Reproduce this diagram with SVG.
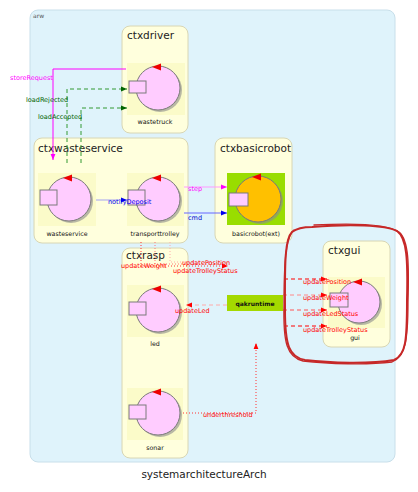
<svg xmlns="http://www.w3.org/2000/svg" width="418" height="492" viewBox="0 0 418 492">
<defs>
<style>
.ctx{fill:#ffffdd;stroke:#d8d6b4;stroke-width:1}
.ctt{font-family:"DejaVu Sans",sans-serif;font-size:10.5px;fill:#222}
.bg{fill:#fbfbc9}
.sh{fill:#8c8c8c;opacity:0.6}
.ci{fill:#ffccff;stroke:#7a7a7a;stroke-width:1}
.rc{fill:#ffccff;stroke:#7a7a7a;stroke-width:1}
.tri{fill:#ee0000}
.nl{font-family:"DejaVu Sans",sans-serif;font-size:6.3px;fill:#111;text-anchor:middle}
.el{font-family:"DejaVu Sans",sans-serif;font-size:6.5px}
.red{fill:#ff0000}
</style>
<marker id="aG" viewBox="0 0 10 10" refX="10" refY="5" markerWidth="6" markerHeight="6" orient="auto" markerUnits="userSpaceOnUse"><path d="M0,1 L10,5 L0,9 Z" fill="#006400"/></marker>
<marker id="aM" viewBox="0 0 10 10" refX="10" refY="5" markerWidth="6" markerHeight="6" orient="auto" markerUnits="userSpaceOnUse"><path d="M0,1 L10,5 L0,9 Z" fill="#ff00ff"/></marker>
<marker id="aB" viewBox="0 0 10 10" refX="10" refY="5" markerWidth="6" markerHeight="6" orient="auto" markerUnits="userSpaceOnUse"><path d="M0,1 L10,5 L0,9 Z" fill="#0000ee"/></marker>
<marker id="aR" viewBox="0 0 10 10" refX="10" refY="5" markerWidth="6" markerHeight="6" orient="auto" markerUnits="userSpaceOnUse"><path d="M0,1 L10,5 L0,9 Z" fill="#ff0000"/></marker>
</defs>
<rect width="418" height="492" fill="#ffffff"/>
<g id="arw">
<rect x="30" y="10" width="365" height="452" rx="8" fill="#dff3fb" stroke="#c8dfea"/>
<text x="33" y="18" font-family="DejaVu Sans,sans-serif" font-size="6" fill="#555">arw</text>
</g>
<g id="ctxdriver">
<rect class="ctx" x="122" y="26" width="66" height="107" rx="8"/>
<text class="ctt" x="127" y="39">ctxdriver</text>
</g>
<g id="ctxwasteservice">
<rect class="ctx" x="34" y="138" width="154" height="105" rx="8"/>
<text class="ctt" x="38" y="152">ctxwasteservice</text>
</g>
<g id="ctxbasicrobot">
<rect class="ctx" x="215" y="138" width="77" height="105" rx="8"/>
<text class="ctt" x="220" y="152">ctxbasicrobot</text>
</g>
<g id="ctxrasp">
<rect class="ctx" x="122" y="248" width="66" height="210" rx="8"/>
<text class="ctt" x="126" y="259">ctxrasp</text>
</g>
<g id="ctxgui">
<rect class="ctx" x="323" y="241" width="67" height="106" rx="8"/>
<text class="ctt" x="328" y="254">ctxgui</text>
</g>
<g id="wastetruck">
<rect class="bg" x="127" y="63" width="58" height="52"/>
<circle class="sh" cx="160" cy="90" r="22"/>
<circle class="ci" cx="158" cy="88" r="22"/>
<path class="tri" d="M152,67 L161,63.5 L161,70.5 Z"/>
<rect class="rc" x="129" y="81" width="17" height="12"/>
<text class="nl" x="155" y="124">wastetruck</text>
</g>
<g id="wasteservice">
<rect class="bg" x="38" y="173" width="58" height="53"/>
<circle class="sh" cx="71" cy="201" r="22"/>
<circle class="ci" cx="69" cy="199" r="22"/>
<path class="tri" d="M63,178 L72,174.5 L72,181.5 Z"/>
<rect class="rc" x="40" y="190" width="17" height="15"/>
<text class="nl" x="67" y="236">wasteservice</text>
</g>
<g id="transporttrolley">
<rect class="bg" x="127" y="173" width="57" height="53"/>
<circle class="sh" cx="160" cy="201" r="22"/>
<circle class="ci" cx="158" cy="199" r="22"/>
<path class="tri" d="M152,178 L161,174.5 L161,181.5 Z"/>
<rect class="rc" x="128" y="190" width="17" height="15"/>
<text class="nl" x="155" y="236">transporttrolley</text>
</g>
<g id="basicrobot">
<rect x="227" y="173" width="58" height="52" fill="#99dd00"/>
<circle class="sh" cx="260" cy="201" r="23"/>
<circle cx="258" cy="199" r="23" fill="#ffc000" stroke="#7a7a7a"/>
<path class="tri" d="M252,177 L261,173.5 L261,180.5 Z"/>
<rect class="rc" x="229" y="193" width="19" height="13"/>
<text class="nl" x="256" y="236">basicrobot(ext)</text>
</g>
<g id="led">
<rect class="bg" x="127" y="285" width="57" height="52"/>
<circle class="sh" cx="160" cy="312" r="22"/>
<circle class="ci" cx="158" cy="310" r="22"/>
<path class="tri" d="M152,289 L161,285.5 L161,292.5 Z"/>
<rect class="rc" x="129" y="302" width="17" height="13"/>
<text class="nl" x="155" y="346">led</text>
</g>
<g id="sonar">
<rect class="bg" x="127" y="388" width="56" height="52"/>
<circle class="sh" cx="160" cy="415" r="22"/>
<circle class="ci" cx="158" cy="413" r="22"/>
<path class="tri" d="M152,392 L161,388.5 L161,395.5 Z"/>
<rect class="rc" x="129" y="405" width="17" height="14"/>
<text class="nl" x="155" y="450">sonar</text>
</g>
<g id="gui">
<rect class="bg" x="328" y="277" width="57" height="51"/>
<circle class="sh" cx="361" cy="304" r="21"/>
<circle class="ci" cx="359" cy="302" r="21"/>
<path class="tri" d="M353,282 L362,278.5 L362,285.5 Z"/>
<rect class="rc" x="330" y="293" width="18" height="14"/>
<text class="nl" x="355" y="340">gui</text>
</g>
<g id="qakruntime">
<rect x="227" y="295" width="56" height="16" fill="#a4d900"/>
<text x="255" y="305.5" font-family="DejaVu Sans,sans-serif" font-size="6" font-weight="bold" fill="#111" text-anchor="middle">qakruntime</text>
</g>
<g id="connectors" fill="none">
<path d="M126,69 H53 V160" stroke="#ff00ff" stroke-width="1" marker-end="url(#aM)"/>
<path d="M67,163 V89 H127" stroke="#339933" stroke-dasharray="4,3" marker-end="url(#aG)"/>
<path d="M81,163 V108 H127" stroke="#339933" stroke-dasharray="4,3" marker-end="url(#aG)"/>
<path d="M96,200 H127" stroke="#c2c2ea" stroke-width="1.5" marker-end="url(#aB)"/>
<path d="M184,187 H227" stroke="#ff99ff" stroke-width="1.2" marker-end="url(#aM)"/>
<path d="M184,213 H227" stroke="#6666ff" marker-end="url(#aB)"/>
<path d="M141,242 V266 H228" stroke="#ff3333" stroke-dasharray="1,2" marker-end="url(#aR)"/>
<path d="M155,242 V264 H228" stroke="#ff7777" stroke-dasharray="1,2"/>
<path d="M170,242 V262 H228" stroke="#ffaaaa" stroke-dasharray="1,2"/>
<path d="M227,305 H186" stroke="#ffaaaa" stroke-dasharray="4,3" marker-end="url(#aR)"/>
<path d="M284,279 H327" stroke="#ff0000" stroke-dasharray="4,3" marker-end="url(#aR)"/>
<path d="M283,295 H327" stroke="#ff8888" stroke-dasharray="4,3" marker-end="url(#aR)"/>
<path d="M283,310 H327" stroke="#ff5555" stroke-dasharray="4,3" marker-end="url(#aR)"/>
<path d="M284,326 H327" stroke="#ff0000" stroke-dasharray="4,3" marker-end="url(#aR)"/>
<path d="M183,413 H256 V343" stroke="#ff3333" stroke-dasharray="1,2" marker-end="url(#aR)"/>
<text class="el" x="10" y="80" fill="#ff00ff">storeRequest</text>
<text class="el" x="26" y="102" fill="#006400">loadRejected</text>
<text class="el" x="38" y="119" fill="#006400">loadAccepted</text>
<text class="el" x="108" y="204" fill="#0000ee">notifyDeposit</text>
<text class="el" x="188" y="191" fill="#ff00ff">step</text>
<text class="el" x="188" y="220" fill="#0000cc">cmd</text>
<text class="el red" x="121" y="268">updateWeight</text>
<text class="el red" x="182" y="265">updatePosition</text>
<text class="el red" x="173" y="273">updateTrolleyStatus</text>
<text class="el red" x="175" y="313">updateLed</text>
<text class="el red" x="303" y="284">updatePosition</text>
<text class="el red" x="303" y="300">updateWeight</text>
<text class="el red" x="303" y="316">updateLedStatus</text>
<text class="el red" x="303" y="332">updateTrolleyStatus</text>
<text class="el red" x="203" y="417">underthreshold</text>
</g>
<g id="highlight" fill="none" stroke="#c62828" stroke-width="2" stroke-linecap="round">
<path d="M312,227 C350,224 385,225 397,231 C407,238 408,260 407,300 C407,340 406,355 394,360 C370,364 330,363 305,360 C289,357 285,345 285,310 C285,270 284,240 292,232 C297,228 304,227 312,227 Z"/>
<path d="M314,225 C352,223 388,224 399,232 C409,240 409,265 408,302 C408,342 405,357 392,362 C368,365 328,364 303,361 C287,357 283,343 284,305 C284,268 285,237 294,230" stroke-width="1.3"/>
</g>
<text x="204" y="478" font-family="DejaVu Sans,sans-serif" font-size="10.5" fill="#222" text-anchor="middle">systemarchitectureArch</text>
</svg>
